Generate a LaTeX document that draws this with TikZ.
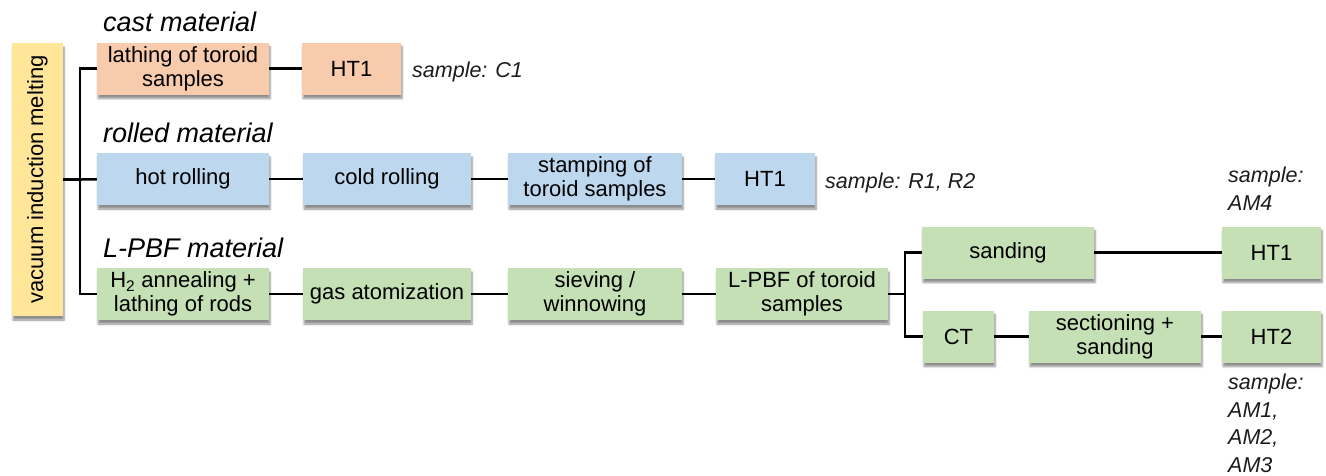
\documentclass[tikz,border=0pt]{standalone}
\usepackage{fontspec}
\setmainfont{Liberation Sans}
\usetikzlibrary{shadows.blur}

\definecolor{castfill}{RGB}{248,203,173}
\definecolor{rollfill}{RGB}{189,215,238}
\definecolor{pbffill}{RGB}{197,224,180}
\definecolor{vimfill}{RGB}{255,230,153}
\definecolor{notegray}{RGB}{28,28,28}

\begin{document}
\begin{tikzpicture}[x=1pt,y=-1pt,
  box/.style={inner sep=0pt, minimum height=52pt, align=center,
    font=\fontsize{22}{24}\selectfont,
    blur shadow={shadow xshift=1pt, shadow yshift=-4pt, shadow blur steps=6, shadow opacity=45}},
  cast/.style={box, fill=castfill},
  roll/.style={box, fill=rollfill},
  pbf/.style={box, fill=pbffill},
  heading/.style={anchor=base west, inner sep=0pt, font=\fontsize{27}{30}\selectfont\itshape},
  note/.style={inner sep=0pt, align=left, text=notegray, font=\fontsize{21.5}{27.5}\selectfont\itshape},
  link/.style={draw, line width=2.5pt}]
\useasboundingbox (0,0) rectangle (1326,475);

% melting step feeding all three routes
\node[box, fill=vimfill, minimum width=51pt, minimum height=273pt] (vim) at (37.5,179.5) {\rotatebox{90}{vacuum induction melting}};

% cast route
\node[heading] (castlabel) at (103,31) {cast material};
\node[cast, minimum width=172pt] (cast1) at (183,68.5) {lathing of toroid\\samples};
\node[cast, minimum width=99pt] (castht) at (351.5,68.5) {HT1};
\node[note, anchor=base west] (castnote) at (412,77) {sample: C1};

% rolled route
\node[heading] (rolllabel) at (103,142) {rolled material};
\node[roll, minimum width=172pt] (hot) at (183,179) {hot rolling};
\node[roll, minimum width=168pt] (cold) at (387,179) {cold rolling};
\node[roll, minimum width=174pt] (stamp) at (595,179) {stamping of\\toroid samples};
\node[roll, minimum width=100pt] (rollht) at (765,179) {HT1};
\node[note, anchor=base west] (rollnote) at (825,188) {sample: R1, R2};

% L-PBF route
\node[heading] (pbflabel) at (103,257) {L-PBF material};
\node[pbf, minimum width=172pt] (h2) at (183,294) {H\textsubscript{2} annealing +\\lathing of rods};
\node[pbf, minimum width=168pt] (gas) at (387,294) {gas atomization};
\node[pbf, minimum width=174pt] (sieve) at (595,294) {sieving /\\winnowing};
\node[pbf, minimum width=172pt] (lpbf) at (802,294) {L-PBF of toroid\\samples};
\node[pbf, minimum width=172pt] (sand) at (1008,252.5) {sanding};
\node[pbf, minimum width=99pt] (amht1) at (1271.5,252.5) {HT1};
\node[pbf, minimum width=71pt] (ct) at (958.5,336.5) {CT};
\node[pbf, minimum width=172pt] (sect) at (1115,336.5) {sectioning +\\sanding};
\node[pbf, minimum width=99pt] (amht2) at (1271.5,336.5) {HT2};
\node[note, anchor=north west] (am4note) at (1228,167) {sample:\\AM4};
\node[note, anchor=north west] (amnote) at (1228,374) {sample:\\AM1,\\AM2,\\AM3};

% branching points
\coordinate (fork) at (80,179.5);
\coordinate (split) at (905,294);

\draw[link] (vim) -- (fork);
\draw[link] (cast1.west) -| (fork) |- (h2.west);
\draw[link] (fork) -- (hot);

\draw[link] (cast1) -- (castht);

\draw[link] (hot) -- (cold);
\draw[link] (cold) -- (stamp);
\draw[link] (stamp) -- (rollht);

\draw[link] (h2) -- (gas);
\draw[link] (gas) -- (sieve);
\draw[link] (sieve) -- (lpbf);
\draw[link] (lpbf) -- (split);
\draw[link] (sand.west) -| (split) |- (ct.west);
\draw[link] (sand) -- (amht1);
\draw[link] (ct) -- (sect);
\draw[link] (sect) -- (amht2);
\end{tikzpicture}
\end{document}
